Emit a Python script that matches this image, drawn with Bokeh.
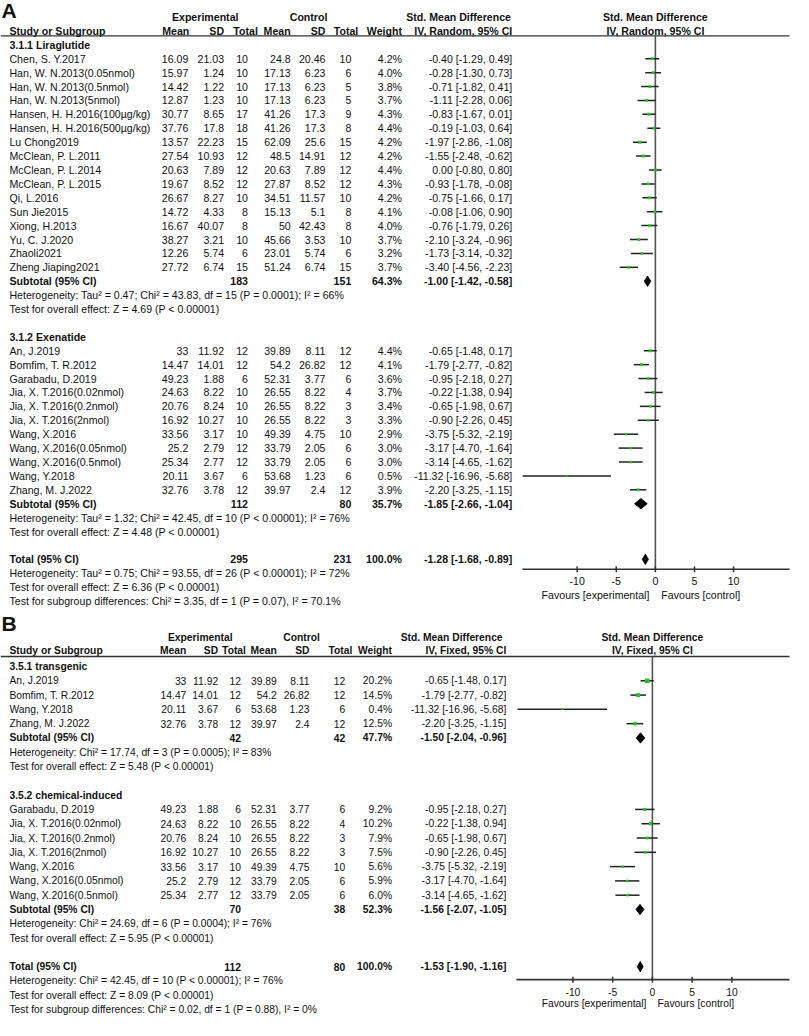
import math
from bokeh.plotting import figure
from bokeh.models import Range1d, ColumnDataSource
from bokeh.embed import file_html
from bokeh.resources import INLINE
from bokeh.core.properties import value

# ---------------- data ----------------
# Panel A, 3.1.1 Liraglutide
lira_names = ["Chen, S. Y.2017", "Han, W. N.2013(0.05nmol)", "Han, W. N.2013(0.5nmol)",
              "Han, W. N.2013(5nmol)", "Hansen, H. H.2016(100µg/kg)", "Hansen, H. H.2016(500µg/kg)",
              "Lu Chong2019", "McClean, P. L.2011", "McClean, P. L.2014", "McClean, P. L.2015",
              "Qi, L.2016", "Sun Jie2015", "Xiong, H.2013", "Yu, C. J.2020", "Zhaoli2021",
              "Zheng Jiaping2021"]
lira_exp_mean = [16.09, 15.97, 14.42, 12.87, 30.77, 37.76, 13.57, 27.54, 20.63, 19.67, 26.67, 14.72, 16.67, 38.27, 12.26, 27.72]
lira_exp_sd = [21.03, 1.24, 1.22, 1.23, 8.65, 17.8, 22.23, 10.93, 7.89, 8.52, 8.27, 4.33, 40.07, 3.21, 5.74, 6.74]
lira_exp_n = [10, 10, 10, 10, 17, 18, 15, 12, 12, 12, 10, 8, 8, 10, 6, 15]
lira_ctl_mean = [24.8, 17.13, 17.13, 17.13, 41.26, 41.26, 62.09, 48.5, 20.63, 27.87, 34.51, 15.13, 50, 45.66, 23.01, 51.24]
lira_ctl_sd = [20.46, 6.23, 6.23, 6.23, 17.3, 17.3, 25.6, 14.91, 7.89, 8.52, 11.57, 5.1, 42.43, 3.53, 5.74, 6.74]
lira_ctl_n = [10, 6, 5, 5, 9, 8, 15, 12, 12, 12, 10, 8, 8, 10, 6, 15]
lira_weight = [4.2, 4.0, 3.8, 3.7, 4.3, 4.4, 4.2, 4.2, 4.4, 4.3, 4.2, 4.1, 4.0, 3.7, 3.2, 3.7]
lira_smd = [-0.40, -0.28, -0.71, -1.11, -0.83, -0.19, -1.97, -1.55, 0.00, -0.93, -0.75, -0.08, -0.76, -2.10, -1.73, -3.40]
lira_lo = [-1.29, -1.30, -1.82, -2.28, -1.67, -1.03, -2.86, -2.48, -0.80, -1.78, -1.66, -1.06, -1.79, -3.24, -3.14, -4.56]
lira_hi = [0.49, 0.73, 0.41, 0.06, 0.01, 0.64, -1.08, -0.62, 0.80, -0.08, 0.17, 0.90, 0.26, -0.96, -0.32, -2.23]
lira_sub = [183, 151, 64.3, -1.00, -1.42, -0.58]
lira_het = "Heterogeneity: Tau² = 0.47; Chi² = 43.83, df = 15 (P = 0.0001); I² = 66%"
lira_test = "Test for overall effect: Z = 4.69 (P < 0.00001)"

# Panel A, 3.1.2 Exenatide
exen_names = ["An, J.2019", "Bomfim, T. R.2012", "Garabadu, D.2019", "Jia, X. T.2016(0.02nmol)",
              "Jia, X. T.2016(0.2nmol)", "Jia, X. T.2016(2nmol)", "Wang, X.2016",
              "Wang, X.2016(0.05nmol)", "Wang, X.2016(0.5nmol)", "Wang, Y.2018", "Zhang, M. J.2022"]
exen_exp_mean = [33, 14.47, 49.23, 24.63, 20.76, 16.92, 33.56, 25.2, 25.34, 20.11, 32.76]
exen_exp_sd = [11.92, 14.01, 1.88, 8.22, 8.24, 10.27, 3.17, 2.79, 2.77, 3.67, 3.78]
exen_exp_n = [12, 12, 6, 10, 10, 10, 10, 12, 12, 6, 12]
exen_ctl_mean = [39.89, 54.2, 52.31, 26.55, 26.55, 26.55, 49.39, 33.79, 33.79, 53.68, 39.97]
exen_ctl_sd = [8.11, 26.82, 3.77, 8.22, 8.22, 8.22, 4.75, 2.05, 2.05, 1.23, 2.4]
exen_ctl_n = [12, 12, 6, 4, 3, 3, 10, 6, 6, 6, 12]
exen_weight = [4.4, 4.1, 3.6, 3.7, 3.4, 3.3, 2.9, 3.0, 3.0, 0.5, 3.9]
exen_smd = [-0.65, -1.79, -0.95, -0.22, -0.65, -0.90, -3.75, -3.17, -3.14, -11.32, -2.20]
exen_lo = [-1.48, -2.77, -2.18, -1.38, -1.98, -2.26, -5.32, -4.70, -4.65, -16.96, -3.25]
exen_hi = [0.17, -0.82, 0.27, 0.94, 0.67, 0.45, -2.19, -1.64, -1.62, -5.68, -1.15]
exen_sub = [112, 80, 35.7, -1.85, -2.66, -1.04]
exen_het = "Heterogeneity: Tau² = 1.32; Chi² = 42.45, df = 10 (P < 0.00001); I² = 76%"
exen_test = "Test for overall effect: Z = 4.48 (P < 0.00001)"

totA = [295, 231, 100.0, -1.28, -1.68, -0.89]
totA_lines = ["Heterogeneity: Tau² = 0.75; Chi² = 93.55, df = 26 (P < 0.00001); I² = 72%",
              "Test for overall effect: Z = 6.36 (P < 0.00001)",
              "Test for subgroup differences: Chi² = 3.35, df = 1 (P = 0.07), I² = 70.1%"]

# Panel B, 3.5.1 transgenic
tg_names = ["An, J.2019", "Bomfim, T. R.2012", "Wang, Y.2018", "Zhang, M. J.2022"]
tg_exp_mean = [33, 14.47, 20.11, 32.76]
tg_exp_sd = [11.92, 14.01, 3.67, 3.78]
tg_exp_n = [12, 12, 6, 12]
tg_ctl_mean = [39.89, 54.2, 53.68, 39.97]
tg_ctl_sd = [8.11, 26.82, 1.23, 2.4]
tg_ctl_n = [12, 12, 6, 12]
tg_weight = [20.2, 14.5, 0.4, 12.5]
tg_smd = [-0.65, -1.79, -11.32, -2.20]
tg_lo = [-1.48, -2.77, -16.96, -3.25]
tg_hi = [0.17, -0.82, -5.68, -1.15]
tg_sub = [42, 42, 47.7, -1.50, -2.04, -0.96]
tg_het = "Heterogeneity: Chi² = 17.74, df = 3 (P = 0.0005); I² = 83%"
tg_test = "Test for overall effect: Z = 5.48 (P < 0.00001)"

# Panel B, 3.5.2 chemical-induced
ch_names = ["Garabadu, D.2019", "Jia, X. T.2016(0.02nmol)", "Jia, X. T.2016(0.2nmol)",
            "Jia, X. T.2016(2nmol)", "Wang, X.2016", "Wang, X.2016(0.05nmol)", "Wang, X.2016(0.5nmol)"]
ch_exp_mean = [49.23, 24.63, 20.76, 16.92, 33.56, 25.2, 25.34]
ch_exp_sd = [1.88, 8.22, 8.24, 10.27, 3.17, 2.79, 2.77]
ch_exp_n = [6, 10, 10, 10, 10, 12, 12]
ch_ctl_mean = [52.31, 26.55, 26.55, 26.55, 49.39, 33.79, 33.79]
ch_ctl_sd = [3.77, 8.22, 8.22, 8.22, 4.75, 2.05, 2.05]
ch_ctl_n = [6, 4, 3, 3, 10, 6, 6]
ch_weight = [9.2, 10.2, 7.9, 7.5, 5.6, 5.9, 6.0]
ch_smd = [-0.95, -0.22, -0.65, -0.90, -3.75, -3.17, -3.14]
ch_lo = [-2.18, -1.38, -1.98, -2.26, -5.32, -4.70, -4.65]
ch_hi = [0.27, 0.94, 0.67, 0.45, -2.19, -1.64, -1.62]
ch_sub = [70, 38, 52.3, -1.56, -2.07, -1.05]
ch_het = "Heterogeneity: Chi² = 24.69, df = 6 (P = 0.0004); I² = 76%"
ch_test = "Test for overall effect: Z = 5.95 (P < 0.00001)"

totB = [112, 80, 100.0, -1.53, -1.90, -1.16]
totB_lines = ["Heterogeneity: Chi² = 42.45, df = 10 (P < 0.00001); I² = 76%",
              "Test for overall effect: Z = 8.09 (P < 0.00001)",
              "Test for subgroup differences: Chi² = 0.02, df = 1 (P = 0.88), I² = 0%"]

tick_values = [-10, -5, 0, 5, 10]
tick_labels = ["-10", "-5", "0", "5", "10"]

# ---------------- layout / style ----------------
FONT = "Liberation Sans"
TXT = "#111111"
GREEN = "#1fc41f"


def group(label, names, em, esd, en, cm, csd, cn, w, smd, lo, hi, sub, het, test):
    return dict(label=label, names=names, em=em, esd=esd, en=en, cm=cm, csd=csd, cn=cn,
                w=w, smd=smd, lo=lo, hi=hi, sub=sub, het=het, test=test)


panels = [
    dict(tag="A", letter="A", letter_y=14.5, h1=21, h2=34.3, line_y=39.5, y0=48.5, dy=13.96,
         zero_px=662, ppu=7.87, axis_y=575, tick_y=587, fav_y=601, axis_lo=-17.0, axis_hi=17.15,
         fs=10.6, sq_max=3.0,
         cols=dict(name=12, em=192, esd=228, en=252, cm=295, csd=330, cn=356, w=407, ci=518),
         hcols=dict(exp=209, ctl=313, smd=464, em=193, esd=228, en=262, cm=295, csd=330, cn=363, w=407, ci=518),
         ci_title="IV, Random, 95% CI", fav_off=(-6, 6),
         groups=[group("3.1.1 Liraglutide", lira_names, lira_exp_mean, lira_exp_sd, lira_exp_n,
                       lira_ctl_mean, lira_ctl_sd, lira_ctl_n, lira_weight, lira_smd, lira_lo, lira_hi,
                       lira_sub, lira_het, lira_test),
                 group("3.1.2 Exenatide", exen_names, exen_exp_mean, exen_exp_sd, exen_exp_n,
                       exen_ctl_mean, exen_ctl_sd, exen_ctl_n, exen_weight, exen_smd, exen_lo, exen_hi,
                       exen_sub, exen_het, exen_test)],
         total=totA, total_lines=totA_lines),
    dict(tag="B", letter="B", letter_y=629, h1=643, h2=657, line_y=662.5, y0=672.6, dy=14.35,
         zero_px=659, ppu=8.0, axis_y=987, tick_y=999, fav_y=1011, axis_lo=-17.1, axis_hi=17.25,
         fs=10.3, sq_max=4.6,
         cols=dict(name=12, em=190, esd=222, en=245, cm=281, csd=314, cn=350, w=397, ci=512),
         hcols=dict(exp=204, ctl=306, smd=457, em=190, esd=222, en=250, cm=281, csd=314, cn=357, w=397, ci=512),
         ci_title="IV, Fixed, 95% CI", fav_off=(-6, 5),
         groups=[group("3.5.1 transgenic", tg_names, tg_exp_mean, tg_exp_sd, tg_exp_n,
                       tg_ctl_mean, tg_ctl_sd, tg_ctl_n, tg_weight, tg_smd, tg_lo, tg_hi,
                       tg_sub, tg_het, tg_test),
                 group("3.5.2 chemical-induced", ch_names, ch_exp_mean, ch_exp_sd, ch_exp_n,
                       ch_ctl_mean, ch_ctl_sd, ch_ctl_n, ch_weight, ch_smd, ch_lo, ch_hi,
                       ch_sub, ch_het, ch_test)],
         total=totB, total_lines=totB_lines),
]

X0, X1 = 3, 801
p = figure(width=793, height=1020, output_backend="svg", toolbar_location=None,
           x_range=Range1d(X0, X1), y_range=Range1d(1028, 4), min_border=0,
           x_axis_location=None, y_axis_location=None)
p.grid.visible = False
p.outline_line_color = None
p.background_fill_color = "white"
p.extra_x_ranges = {P["tag"]: Range1d((X0 - P["zero_px"]) / P["ppu"], (X1 - P["zero_px"]) / P["ppu"])
                    for P in panels}

texts = {}


def T(x, y, s, align="left", bold=False, fs=10.6, rng="default", xoff=0):
    k = (align, bold, fs, rng, xoff)
    d = texts.setdefault(k, {"x": [], "y": [], "text": []})
    d["x"].append(x)
    d["y"].append(y)
    d["text"].append(s)


def num(v):
    return f"{v:g}"


def ci(e, l, h):
    return f"{e:.2f} [{l:.2f}, {h:.2f}]"


for P in panels:
    tag, fs, c, hc = P["tag"], P["fs"], P["cols"], P["hcols"]
    yy = lambda i, P=P: P["y0"] + P["dy"] * i
    # letter
    T(4, P["letter_y"], P["letter"], bold=True, fs=21)
    # headers
    T(hc["exp"], P["h1"], "Experimental", "center", True, fs)
    T(hc["ctl"], P["h1"], "Control", "center", True, fs)
    T(hc["smd"], P["h1"], "Std. Mean Difference", "center", True, fs)
    T(0, P["h1"], "Std. Mean Difference", "center", True, fs, rng=tag)
    T(c["name"], P["h2"], "Study or Subgroup", "left", True, fs)
    for key, lab in [("em", "Mean"), ("esd", "SD"), ("en", "Total"), ("cm", "Mean"),
                     ("csd", "SD"), ("cn", "Total"), ("w", "Weight"), ("ci", P["ci_title"])]:
        T(hc[key], P["h2"], lab, "right", True, fs)
    T(0, P["h2"], P["ci_title"], "center", True, fs, rng=tag)
    p.segment(x0=[X0], x1=[797], y0=[P["line_y"]], y1=[P["line_y"]], line_color="#333333", line_width=1.4)

    seg = {"x0": [], "x1": [], "y": []}
    sq = {"x": [], "y": [], "size": []}
    dia = {"xs": [], "ys": []}
    maxw = max(max(g["w"]) for g in P["groups"])

    def diamond(e, l, h, y, hh=5.2):
        dia["xs"].append([l, e, h, e])
        dia["ys"].append([y, y - hh, y, y + hh])

    i = 0
    for g in P["groups"]:
        T(c["name"], yy(i), g["label"], "left", True, fs)
        i += 1
        for k, name in enumerate(g["names"]):
            y = yy(i)
            T(c["name"], y, name, "left", False, fs)
            T(c["em"], y, num(g["em"][k]), "right", False, fs)
            T(c["esd"], y, num(g["esd"][k]), "right", False, fs)
            T(c["en"], y, num(g["en"][k]), "right", False, fs)
            T(c["cm"], y, num(g["cm"][k]), "right", False, fs)
            T(c["csd"], y, num(g["csd"][k]), "right", False, fs)
            T(c["cn"], y, num(g["cn"][k]), "right", False, fs)
            T(c["w"], y, f"{g['w'][k]:.1f}%", "right", False, fs)
            T(c["ci"], y, ci(g["smd"][k], g["lo"][k], g["hi"][k]), "right", False, fs)
            seg["x0"].append(g["lo"][k]); seg["x1"].append(g["hi"][k]); seg["y"].append(y)
            sq["x"].append(g["smd"][k]); sq["y"].append(y)
            sq["size"].append(max(1.6, P["sq_max"] * math.sqrt(g["w"][k] / maxw)))
            i += 1
        y = yy(i)
        s = g["sub"]
        T(c["name"], y, "Subtotal (95% CI)", "left", True, fs)
        T(c["en"], y, num(s[0]), "right", True, fs)
        T(c["cn"], y, num(s[1]), "right", True, fs)
        T(c["w"], y, f"{s[2]:.1f}%", "right", True, fs)
        T(c["ci"], y, ci(s[3], s[4], s[5]), "right", True, fs)
        diamond(s[3], s[4], s[5], y)
        i += 1
        T(c["name"], yy(i), g["het"], "left", False, fs); i += 1
        T(c["name"], yy(i), g["test"], "left", False, fs); i += 1
        i += 1
    y = yy(i)
    s = P["total"]
    T(c["name"], y, "Total (95% CI)", "left", True, fs)
    T(c["en"], y, num(s[0]), "right", True, fs)
    T(c["cn"], y, num(s[1]), "right", True, fs)
    T(c["w"], y, f"{s[2]:.1f}%", "right", True, fs)
    T(c["ci"], y, ci(s[3], s[4], s[5]), "right", True, fs)
    diamond(s[3], s[4], s[5], y)
    i += 1
    for line in P["total_lines"]:
        T(c["name"], yy(i), line, "left", False, fs)
        i += 1

    # zero line
    p.segment(x0=[0], x1=[0], y0=[P["line_y"]], y1=[P["axis_y"]], x_range_name=tag,
              line_color="#555555", line_width=1.6)
    # CIs
    p.segment(x0="x0", x1="x1", y0="y", y1="y", source=ColumnDataSource(seg), x_range_name=tag,
              line_color="#222222", line_width=1.5)
    p.scatter(x="x", y="y", size="size", marker="square", source=ColumnDataSource(sq), x_range_name=tag,
              fill_color=GREEN, line_color=None)
    p.patches(xs="xs", ys="ys", source=ColumnDataSource(dia), x_range_name=tag,
              fill_color="black", line_color="black", line_width=0.8)
    # axis
    p.segment(x0=[P["axis_lo"]], x1=[P["axis_hi"]], y0=[P["axis_y"]], y1=[P["axis_y"]], x_range_name=tag,
              line_color="#333333", line_width=1.6)
    p.segment(x0=tick_values, x1=tick_values, y0=[P["axis_y"] - 3] * len(tick_values),
              y1=[P["axis_y"] + 3] * len(tick_values), x_range_name=tag, line_color="#333333", line_width=1.5)
    for tv, tl in zip(tick_values, tick_labels):
        T(tv, P["tick_y"], tl, "center", False, fs, rng=tag)
    T(0, P["fav_y"], "Favours [experimental]", "right", False, fs, rng=tag, xoff=P["fav_off"][0])
    T(0, P["fav_y"], "Favours [control]", "left", False, fs, rng=tag, xoff=P["fav_off"][1])

for (align, bold, fs, rng, xoff), d in texts.items():
    kw = {}
    if rng != "default":
        kw["x_range_name"] = rng
    p.text(x="x", y="y", text="text", source=ColumnDataSource(d), text_align=align,
           text_baseline="middle", text_font=value(FONT), text_font_size=value(f"{fs}px"),
           text_font_style="bold" if bold else "normal", text_color=TXT, x_offset=xoff, **kw)

open("out.html", "w").write(file_html(p, INLINE))
